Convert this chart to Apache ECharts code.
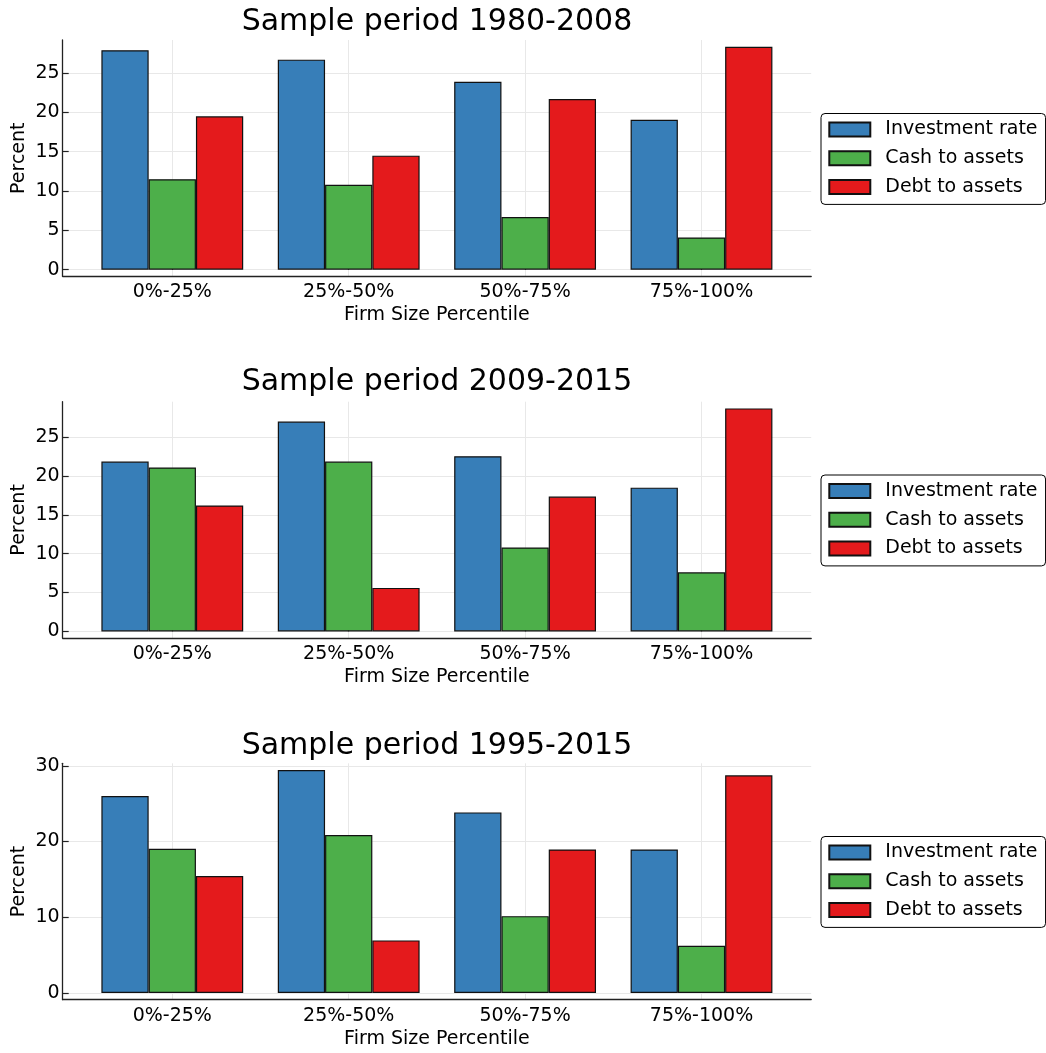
<!DOCTYPE html>
<html>
<head>
<meta charset="utf-8">
<script src="https://cdn.jsdelivr.net/npm/echarts@6/dist/echarts.min.js"></script>
<style>
html,body{margin:0;padding:0;background:#fff;}
#main{width:1046px;height:1053px;}
</style>
</head>
<body>
<div id="main"></div>
<script>
// ---- data ----
const categories = ['0%-25%', '25%-50%', '50%-75%', '75%-100%'];
const seriesNames = ['Investment rate', 'Cash to assets', 'Debt to assets'];
const panelTitles = ['Sample period 1980-2008', 'Sample period 2009-2015', 'Sample period 1995-2015'];
const yTicks1 = [0, 5, 10, 15, 20, 25];
const yTicks2 = [0, 5, 10, 15, 20, 25];
const yTicks3 = [0, 10, 20, 30];

const invest1980 = [27.9, 26.7, 23.9, 19.05];
const cash1980   = [11.5, 10.8, 6.7, 4.1];
const debt1980   = [19.5, 14.5, 21.7, 28.35];

const invest2009 = [21.85, 27.0, 22.55, 18.5];
const cash2009   = [21.1, 21.85, 10.8, 7.6];
const debt2009   = [16.2, 5.6, 17.35, 28.7];

const invest1995 = [26.0, 29.45, 23.85, 18.95];
const cash1995   = [19.05, 20.85, 10.15, 6.25];
const debt1995   = [15.45, 6.95, 18.95, 28.75];

// ---- layout / style ----
const colors = ['#377eb8', '#4daf4a', '#e41a1c'];
const FONT = 'DejaVu Sans';
const TITLE_SIZE = 30;
const panels = [
  {title: panelTitles[0], data: [invest1980, cash1980, debt1980], ticks: yTicks1, step: 5, top: 40, titleTop: 2.5, legendTop: 113.5},
  {title: panelTitles[1], data: [invest2009, cash2009, debt2009], ticks: yTicks2, step: 5, top: 401.7, titleTop: 362.5, legendTop: 475},
  {title: panelTitles[2], data: [invest1995, cash1995, debt1995], ticks: yTicks3, step: 10, top: 763.3, titleTop: 726, legendTop: 836.5}
];
const H = 236.4;
const BG_LEFT = 62.7, BG_WIDTH = 748.5;
const FG_LEFT = 84.1, FG_WIDTH = 705.6;
const PLOT_CENTER = BG_LEFT + BG_WIDTH / 2;
const axisColor = '#222';
const gridColor = '#e8e8e8';

const measureCtx = document.createElement('canvas').getContext('2d');
function textWidth(t, size) {
  measureCtx.font = size + 'px "' + FONT + '"';
  return measureCtx.measureText(t).width;
}

const option = {
  animation: false,
  backgroundColor: '#fff',
  color: colors,
  title: [], legend: [], grid: [], xAxis: [], yAxis: [], series: []
};

panels.forEach((p, i) => {
  let mx = 0;
  p.data.forEach(a => a.forEach(v => { if (v > mx) mx = v; }));
  const ymin = -0.03 * mx, ymax = mx * 1.03;

  option.title.push({
    text: p.title, left: PLOT_CENTER - textWidth(p.title, TITLE_SIZE) / 2 - 5, top: p.titleTop,
    padding: 5,
    textStyle: {fontFamily: FONT, fontSize: TITLE_SIZE, fontWeight: 'normal', color: '#000'}
  });
  option.legend.push({
    data: seriesNames, orient: 'vertical', left: 821, top: p.legendTop,
    padding: [6.5, 8, 8, 7.3], itemGap: 9.7, itemWidth: 41, itemHeight: 14,
    icon: 'rect', borderColor: '#000', borderWidth: 1, borderRadius: 4,
    backgroundColor: '#fff',
    textStyle: {fontFamily: FONT, fontSize: 19, color: '#000', lineHeight: 19, padding: [0, 0, 0, 10]}
  });
  // background grid (axis frame + horizontal grid lines)
  option.grid.push({left: BG_LEFT, width: BG_WIDTH, top: p.top, height: H, containLabel: false, outerBoundsMode: 'none'});
  // foreground grid (bars)
  option.grid.push({left: FG_LEFT, width: FG_WIDTH, top: p.top, height: H, containLabel: false, outerBoundsMode: 'none'});

  const bg = 2 * i, fg = 2 * i + 1;
  option.xAxis.push({
    gridIndex: bg, type: 'value', min: 0, max: 1,
    axisLine: {show: true, onZero: false, lineStyle: {color: axisColor, width: 1.3}},
    axisTick: {show: false}, axisLabel: {show: false}, splitLine: {show: false}
  });
  option.xAxis.push({
    gridIndex: fg, type: 'category', data: categories,
    name: 'Firm Size Percentile', nameLocation: 'middle', nameGap: 29.5, nameMoveOverlap: false,
    nameTextStyle: {fontFamily: FONT, fontSize: 19, color: '#000'},
    axisLine: {show: false},
    axisTick: {show: true, inside: true, length: 6, alignWithLabel: true, lineStyle: {color: axisColor, width: 1.2}},
    axisLabel: {fontFamily: FONT, fontSize: 19, color: '#000', margin: 6.5},
    splitLine: {show: true, alignWithLabel: true, lineStyle: {color: gridColor, width: 1}}
  });
  option.yAxis.push({
    gridIndex: bg, type: 'value', min: ymin, max: ymax,
    minInterval: p.step, maxInterval: p.step,
    name: 'Percent', nameLocation: 'middle', nameGap: 34, nameMoveOverlap: false,
    nameTextStyle: {fontFamily: FONT, fontSize: 19, color: '#000'},
    axisLine: {show: true, onZero: false, lineStyle: {color: axisColor, width: 1.3}},
    axisTick: {show: true, inside: true, length: 6, customValues: p.ticks, lineStyle: {color: axisColor, width: 1.2}},
    axisLabel: {fontFamily: FONT, fontSize: 19, color: '#000', margin: 3, customValues: p.ticks,
      formatter: v => String(Math.round(v))},
    splitLine: {show: true, lineStyle: {color: gridColor, width: 1}}
  });
  option.yAxis.push({
    gridIndex: fg, type: 'value', min: ymin, max: ymax, show: false,
    splitLine: {show: false}
  });
  p.data.forEach((arr, k) => {
    option.series.push({
      type: 'bar', name: seriesNames[k], xAxisIndex: fg, yAxisIndex: fg,
      data: arr, barGap: '0%', barCategoryGap: '19.6%',
      itemStyle: {color: colors[k], borderColor: '#111', borderWidth: 1.2},
      emphasis: {disabled: true}
    });
  });
});

const chart = echarts.init(document.getElementById('main'), null, {renderer: 'canvas'});
chart.setOption(option);
</script>
</body>
</html>
